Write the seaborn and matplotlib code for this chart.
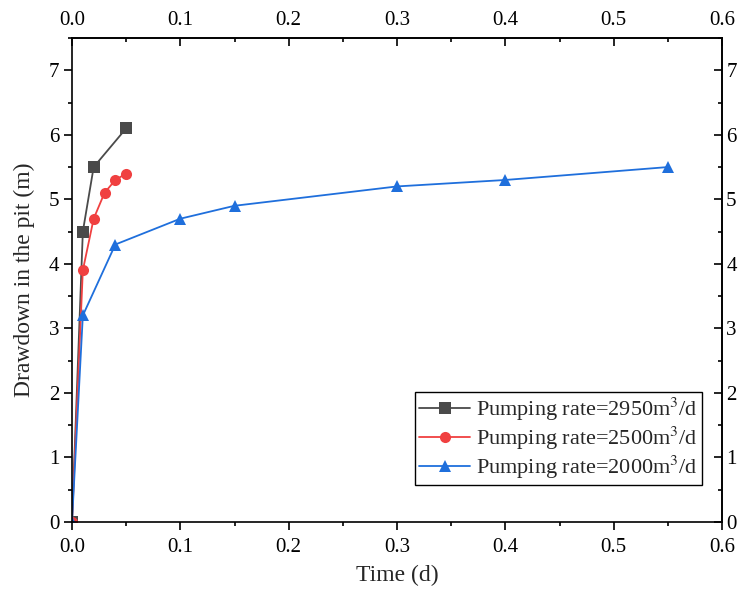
import matplotlib
matplotlib.use("Agg")
import matplotlib.pyplot as plt
import seaborn as sns
import pandas as pd
from matplotlib.ticker import MultipleLocator, FormatStrFormatter

sns.set_theme(style="ticks")
plt.rcParams['font.family'] = ['Liberation Serif', 'DejaVu Serif']
plt.rcParams['mathtext.fontset'] = 'stix'

t_2950 = [0, 0.01, 0.02, 0.05]
s_2950 = [0, 4.5, 5.5, 6.1]
t_2500 = [0, 0.01, 0.02, 0.03, 0.04, 0.05]
s_2500 = [0, 3.9, 4.7, 5.1, 5.3, 5.4]
t_2000 = [0, 0.01, 0.04, 0.1, 0.15, 0.3, 0.4, 0.55]
s_2000 = [0, 3.2, 4.3, 4.7, 4.9, 5.2, 5.3, 5.5]
labels = ["Pumping rate=2950m$^3$/d", "Pumping rate=2500m$^3$/d", "Pumping rate=2000m$^3$/d"]

df = pd.concat([
    pd.DataFrame({"t": t_2950, "s": s_2950, "series": labels[0]}),
    pd.DataFrame({"t": t_2500, "s": s_2500, "series": labels[1]}),
    pd.DataFrame({"t": t_2000, "s": s_2000, "series": labels[2]}),
])

palette = {labels[0]: "#4a4a4a", labels[1]: "#f04040", labels[2]: "#1f6fdc"}
markers = {labels[0]: "s", labels[1]: "o", labels[2]: "^"}

fig = plt.figure(figsize=(7.42, 5.90), dpi=100)
ax = fig.add_axes([72/742, 68/590, (722-72)/742, (522-38)/590])

sns.lineplot(data=df, x="t", y="s", hue="series", style="series", palette=palette,
             markers=markers, dashes=False, markersize=8, linewidth=1.3,
             markeredgewidth=0, sort=False, estimator=None, ax=ax)

ax.set_xlim(0, 0.6)
ax.set_ylim(0, 7.5)
ax.xaxis.set_major_locator(MultipleLocator(0.1))
ax.xaxis.set_minor_locator(MultipleLocator(0.05))
ax.xaxis.set_major_formatter(FormatStrFormatter('%.1f'))
ax.yaxis.set_major_locator(MultipleLocator(1))
ax.yaxis.set_minor_locator(MultipleLocator(0.5))
ax.tick_params(which='both', direction='out', top=False, right=False,
               colors='black', width=1.2)
ax.tick_params(which='major', length=5.5, labelsize=15)
ax.tick_params(which='minor', length=3)
ax.tick_params(axis='x', which='major', pad=6)

secx = ax.secondary_xaxis('top')
secx.xaxis.set_major_locator(MultipleLocator(0.1))
secx.xaxis.set_minor_locator(MultipleLocator(0.05))
secx.xaxis.set_major_formatter(FormatStrFormatter('%.1f'))
secx.tick_params(which='both', direction='in', colors='black', width=1.2)
secx.tick_params(which='major', length=5.5, labelsize=15, pad=6)
secx.tick_params(which='minor', length=3)

secy = ax.secondary_yaxis('right')
secy.yaxis.set_major_locator(MultipleLocator(1))
secy.yaxis.set_minor_locator(MultipleLocator(0.5))
secy.tick_params(which='both', direction='in', colors='black', width=1.2)
secy.tick_params(which='major', length=5.5, labelsize=15, pad=3)
secy.tick_params(which='minor', length=3)

for a in (ax, secx, secy):
    for sp in a.spines.values():
        sp.set_linewidth(1.2)
        sp.set_color('black')

ax.set_xlabel("Time (d)", fontsize=17, labelpad=6)
ax.set_ylabel("Drawdown in the pit (m)", fontsize=17, labelpad=10)

leg = ax.legend(loc='lower right', bbox_to_anchor=(0.969, 0.076), borderaxespad=0,
                fontsize=16, frameon=True, fancybox=False, edgecolor='black',
                framealpha=1, handlelength=2.3, handletextpad=0.25,
                labelspacing=0.07, borderpad=0.2)
leg.get_frame().set_linewidth(1.0)

fig.savefig("out.png", dpi=100)
